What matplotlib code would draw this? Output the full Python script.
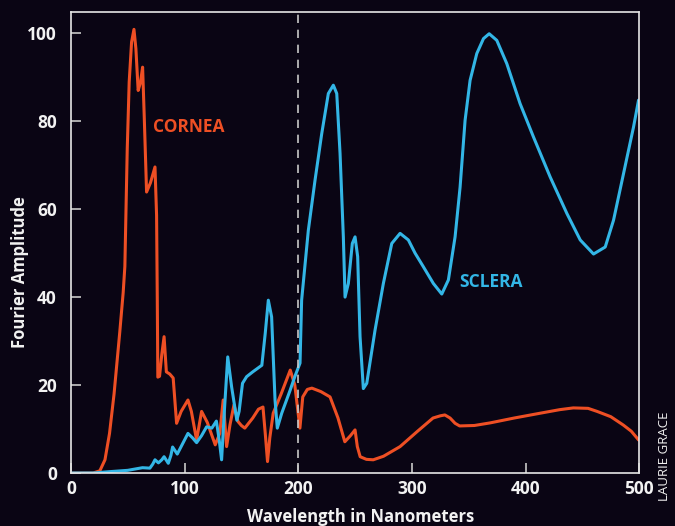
import matplotlib
matplotlib.use("Agg")
import matplotlib.pyplot as plt

# --------------------------------------------------
# Data
# --------------------------------------------------

cornea_x = [0, 10, 19.6, 25.5, 30, 34, 38, 43, 46, 47.5, 48.4, 49.6, 51.3, 53.4, 55.5, 57.2, 59.2,
            61.3, 63.1, 64.5, 66.6, 70, 74, 75.4, 76, 76.5, 78, 80, 82, 84, 87, 90, 93, 97,
            103, 106, 110.6, 115, 120, 127, 131, 134, 137, 140, 143.5, 147, 150, 153, 160,
            165, 169, 171, 173, 175, 178, 185, 193, 197, 201.5, 204, 208, 212, 220, 228,
            235, 241, 246, 250, 252, 254.5, 260, 266, 275, 289.6, 305, 318.6, 325, 329,
            333.6, 338, 342, 355, 369, 390, 413, 430, 442, 455, 463, 475, 486, 493, 499.5]
cornea_y = [0, 0, 0, 0.5, 3, 9, 18, 32, 41, 47, 58.6, 73.8, 88.9, 98, 100.9, 96.5, 87,
            88.9, 92.3, 81.4, 63.9, 66, 69.6, 58.6, 40, 21.8, 22, 27, 31, 23, 22.5, 21.6, 11.3, 14,
            16.6, 14, 7.5, 14, 11.5, 6.4, 9, 16.6, 6, 11, 15.5, 11.7, 10.8, 10.2, 12.5,
            14.5, 15, 9, 2.6, 8, 13.6, 18, 23.4, 20, 10.2, 17.3, 19, 19.3, 18.5, 17.3,
            12.5, 7.1, 8.5, 9.8, 6, 3.7, 3.1, 3, 3.8, 6, 9.5, 12.5, 13, 13.2,
            12.5, 11.3, 10.7, 10.8, 11.4, 12.5, 13.6, 14.4, 14.8, 14.7, 14, 12.8, 10.9, 9.5, 7.5]

sclera_x = [0, 20, 34, 50, 63, 69.5, 72, 74, 77, 80, 82, 85.7, 88, 89.5, 93.6, 98, 103,
            107, 110.6, 115, 119.4, 124, 128, 130.5, 132.6, 135, 138, 141.4, 146, 148,
            151, 154.6, 160, 168, 171, 173.7, 176.6, 179.6, 181.6, 185.5, 193, 197,
            201.6, 203, 208.9, 214.8, 220.7, 226.5, 230.9, 233.9, 236.8, 239.7, 241.2,
            244.1, 247.6, 250, 252.3, 254.4, 257.3, 260.3, 267.6, 274.9, 282.3, 289.6,
            296.9, 302.8, 310.1, 318.9, 326.3, 332.1, 338, 342.4, 346.8, 351.2, 357.1,
            363, 368, 374.7, 383.5, 395.2, 407, 421.7, 436.4, 448.1, 459.8, 470.1,
            477.4, 486.2, 495, 499.4]
sclera_y = [0, 0, 0.3, 0.6, 1.2, 1.1, 2, 3, 2.3, 3, 3.7, 2.2, 4, 5.9, 4.3, 6.5, 9,
            8, 6.9, 8.5, 10.5, 10.2, 11.8, 7.5, 3, 14, 26.4, 19.6, 12, 14,
            20.4, 21.9, 23, 24.5, 31.8, 39.3, 35.5, 16.6, 10.2, 13.6, 18.9, 21.9,
            25, 39.3, 55.2, 66.6, 77.2, 86.3, 88.2, 86.3, 72.7, 53.7, 40,
            43.1, 52.2, 53.7, 49.2, 31, 19.2, 20.4, 32.5, 43.1, 52.2, 54.5,
            53, 50, 46.9, 43.1, 40.7, 43.9, 53.7, 65, 80.2, 89.3, 95.4,
            98.8, 99.9, 98.4, 93.1, 84, 76.4, 67.3, 59, 53, 49.8, 51.4,
            57.5, 68.1, 78.7, 84.8]

x_ticks = [0, 100, 200, 300, 400, 500]
y_ticks = [0, 20, 40, 60, 80, 100]

# --------------------------------------------------
# Style
# --------------------------------------------------

BG = "#0a0514"
ORANGE = "#ee4f24"
CYAN = "#33b6e6"
FG = "#f2f2f2"

plt.rcParams["font.family"] = ["Open Sans", "DejaVu Sans"]
plt.rcParams["font.weight"] = "bold"

fig = plt.figure(figsize=(6.75, 5.26), dpi=100, facecolor=BG)
ax = fig.add_axes([0.105, 0.1008, 0.842, 0.876])
ax.set_facecolor(BG)

ax.plot(cornea_x, cornea_y, color=ORANGE, linewidth=2.2,
        solid_joinstyle="round", solid_capstyle="round")
ax.plot(sclera_x, sclera_y, color=CYAN, linewidth=2.2,
        solid_joinstyle="round", solid_capstyle="round")

ax.axvline(200, color="#c8c8c8", linewidth=1.2, linestyle=(0, (5, 4)))

ax.text(72, 78.6, "CORNEA", color=ORANGE, fontsize=12.5, fontweight="bold", va="center")
ax.text(341.5, 43.4, "SCLERA", color=CYAN, fontsize=12.5, fontweight="bold", va="center")

ax.set_xlim(0, 500)
ax.set_ylim(0, 104.8)
ax.set_xticks(x_ticks)
ax.set_yticks(y_ticks)

ax.tick_params(direction="in", length=7, width=1.2, colors="#c8c8c8",
               labelcolor=FG, labelsize=12.5)
ax.tick_params(axis="y", pad=10)
ax.tick_params(axis="x", pad=5)
for lbl in ax.get_xticklabels() + ax.get_yticklabels():
    lbl.set_fontweight("bold")

for spine in ax.spines.values():
    spine.set_color("#e6e6e6")
    spine.set_linewidth(1.2)

ax.set_xlabel("Wavelength in Nanometers", color=FG, fontsize=12, fontweight="bold")
ax.set_ylabel("Fourier Amplitude", color=FG, fontsize=12, fontweight="bold")
ax.xaxis.set_label_coords(0.509, -0.076)
ax.yaxis.set_label_coords(-0.073, 0.437)

fig.text(0.984, 0.217, "LAURIE GRACE", color=FG, fontsize=9.5, rotation=90,
         ha="center", va="top", fontweight="normal",
         family=["Liberation Sans Narrow", "Open Sans", "DejaVu Sans"])

fig.savefig("out.png", dpi=100, facecolor=BG)
